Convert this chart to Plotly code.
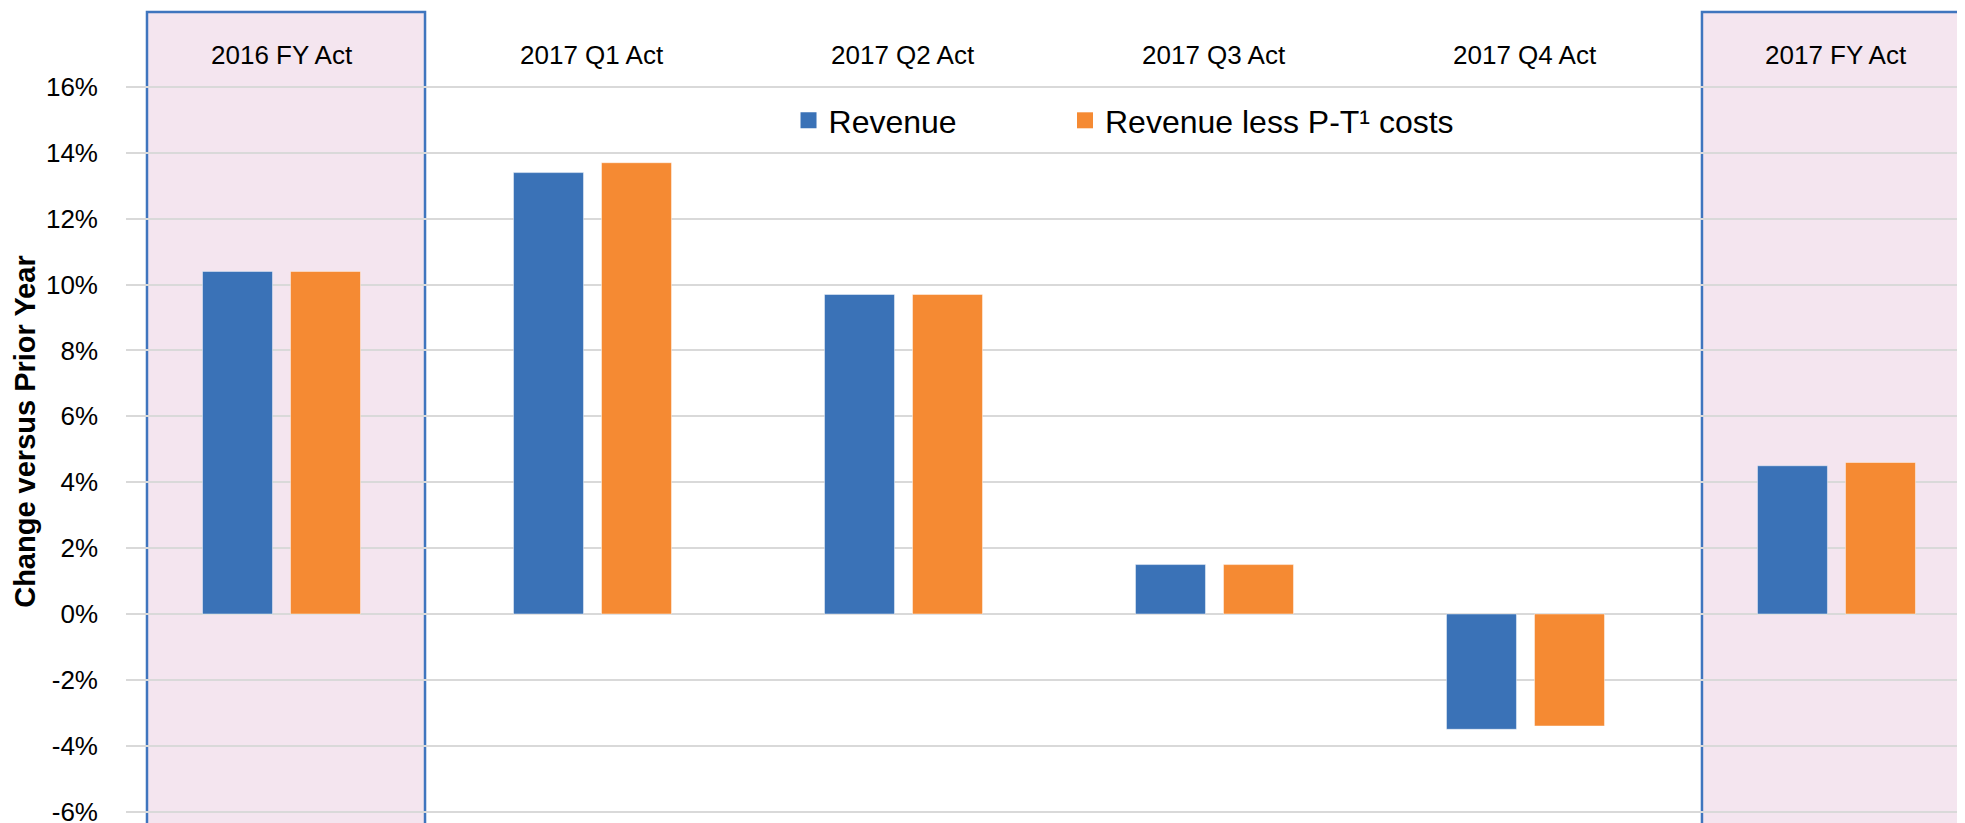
import plotly.graph_objects as go

categories = ["2016 FY Act", "2017 Q1 Act", "2017 Q2 Act", "2017 Q3 Act", "2017 Q4 Act", "2017 FY Act"]
revenue = [10.4, 13.4, 9.7, 1.5, -3.5, 4.5]
revenue_less_pt = [10.4, 13.7, 9.7, 1.5, -3.4, 4.6]
series_names = ["Revenue", "Revenue less P-T¹ costs"]
highlighted = ["2016 FY Act", "2017 FY Act"]
y_ticks = [-6, -4, -2, 0, 2, 4, 6, 8, 10, 12, 14, 16]
y_title = "Change versus Prior Year"

BLUE = "#3A72B7"
ORANGE = "#F58A33"
PINK = "#F4E5EF"
BORDER = "#3F75BE"
FONT = "Arial, Liberation Sans, sans-serif"

W, H = 1965, 823
ML = 118
y_top = 18.397
y_bot = -6.588
box_top = 18.275
half = 0.447
shift = 0.0145

fig = go.Figure()
legend_ids = ["legend", "legend2"]
legend_x = [0.3587, 0.5084]
for k, (name, vals, col) in enumerate([(series_names[0], revenue, BLUE),
                                        (series_names[1], revenue_less_pt, ORANGE)]):
    fig.add_trace(go.Bar(
        x=list(range(len(categories))), y=vals, name=name,
        marker=dict(color=col, line=dict(color="rgba(255,255,255,0.45)", width=1)),
        showlegend=False, hovertext=categories,
    ))
    fig.add_trace(go.Scatter(
        x=[None], y=[None], mode="markers", name=name, legend=legend_ids[k],
        marker=dict(symbol="square", size=16, color=col), showlegend=True,
    ))

for cat in highlighted:
    i = categories.index(cat)
    fig.add_shape(type="rect", xref="x", yref="y",
                  x0=i - half + shift, x1=i + half + shift, y0=y_bot - 5, y1=box_top,
                  fillcolor=PINK, line=dict(color=BORDER, width=2.5), layer="below")

for i, cat in enumerate(categories):
    fig.add_annotation(x=i, y=16.97, text=cat, showarrow=False, xref="x", yref="y",
                       font=dict(family=FONT, size=26, color="#000000"), yanchor="middle")

fig.add_annotation(x=-0.0547, xref="paper", y=5.53, yref="y", text=f"<b>{y_title}</b>",
                   textangle=-90, showarrow=False, xanchor="center", yanchor="middle",
                   font=dict(family=FONT, size=29, color="#000000"))

legend_common = dict(orientation="h", xanchor="left", y=0.8633, yanchor="middle",
                     font=dict(family=FONT, size=32, color="#000000"),
                     bgcolor="rgba(0,0,0,0)", borderwidth=0)

fig.update_layout(
    width=W, height=H,
    margin=dict(l=ML, r=0, t=0, b=0),
    paper_bgcolor="white", plot_bgcolor="white",
    barmode="group", bargap=0.434, bargroupgap=0.205,
    font=dict(family=FONT, color="#000000"),
    legend=dict(x=legend_x[0], **legend_common),
    legend2=dict(x=legend_x[1], **legend_common),
    xaxis=dict(range=[-0.5, 5.439], showticklabels=False, showgrid=False, zeroline=False,
               showline=False, ticks=""),
    yaxis=dict(range=[y_bot, y_top], tickvals=y_ticks, ticktext=[f"{v}%" for v in y_ticks],
               showgrid=True, gridcolor="#D9D9D9", gridwidth=2, zeroline=False, showline=False,
               tickfont=dict(family=FONT, size=26, color="#000000"), ticklabelstandoff=27),
)

fig.write_html("out.html")
